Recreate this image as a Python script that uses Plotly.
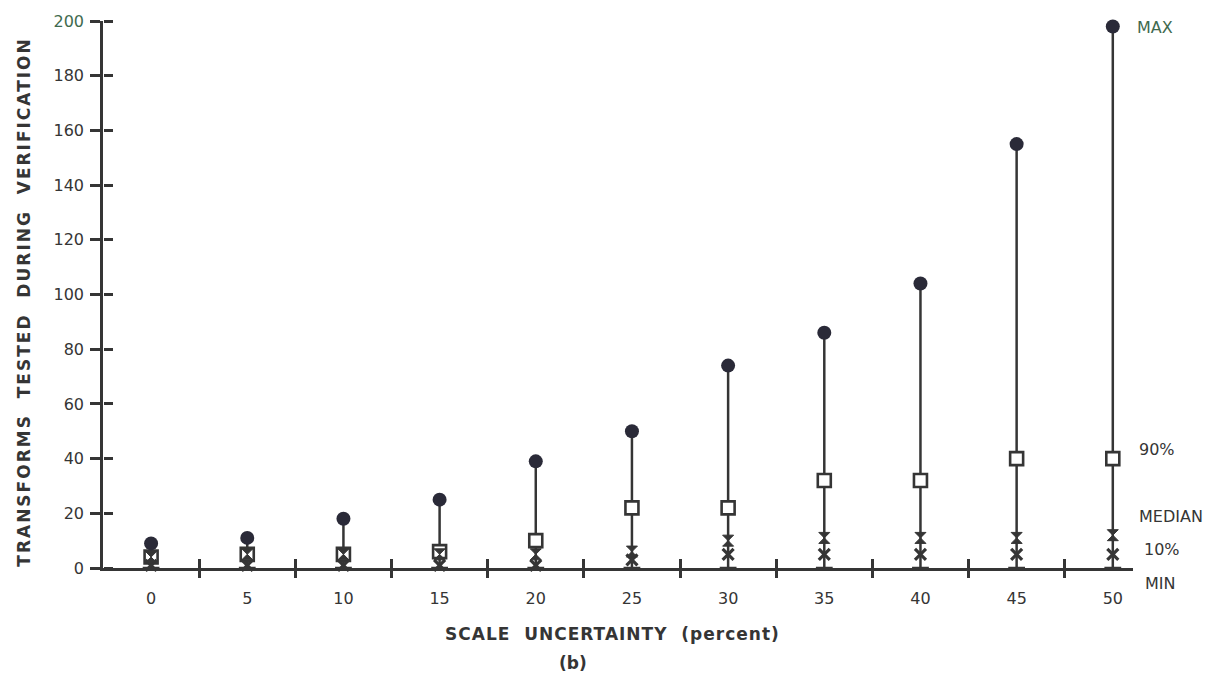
import plotly.graph_objects as go

# Scale uncertainty (percent) and statistics of transforms tested during verification
scale_pct = [0, 5, 10, 15, 20, 25, 30, 35, 40, 45, 50]
t_max = [9, 11, 18, 25, 39, 50, 74, 86, 104, 155, 198]
t_p90 = [4, 5, 5, 6, 10, 22, 22, 32, 32, 40, 40]
t_median = [4, 5, 5, 5, 5, 6, 10, 11, 11, 11, 12]
t_p10 = [1, 1, 1, 1, 1, 3, 5, 5, 5, 5, 5]
t_min = [0, 0, 0, 0, 0, 0, 0, 0, 0, 0, 0]

y_ticks = [0, 20, 40, 60, 80, 100, 120, 140, 160, 180, 200]
x_mid_ticks = [2.5, 7.5, 12.5, 17.5, 22.5, 27.5, 32.5, 37.5, 42.5, 47.5]

INK = "#353535"
DOT = "#2a2a38"
GREEN = "#3f6a4f"
FONT = "DejaVu Sans"

# vertical range lines from max down to min
seg_x, seg_y = [], []
for x, hi, lo in zip(scale_pct, t_max, t_min):
    seg_x += [x, x, None]
    seg_y += [hi, lo, None]

fig = go.Figure()
fig.add_trace(go.Scatter(x=seg_x, y=seg_y, mode="lines",
                         line=dict(color=INK, width=2.5), showlegend=False,
                         hoverinfo="skip", cliponaxis=False))
fig.add_trace(go.Scatter(x=scale_pct, y=t_min, mode="markers", name="MIN",
                         marker=dict(symbol="line-ew", size=12,
                                     line=dict(color=INK, width=2.5)),
                         showlegend=False, cliponaxis=False))
fig.add_trace(go.Scatter(x=scale_pct, y=t_p90, mode="markers", name="90%",
                         marker=dict(symbol="square", size=13, color="white",
                                     line=dict(color=INK, width=2.6)),
                         showlegend=False, cliponaxis=False))
fig.add_trace(go.Scatter(x=scale_pct, y=t_p10, mode="markers", name="10%",
                         marker=dict(symbol="x-thin", size=11,
                                     line=dict(color=INK, width=3.2)),
                         showlegend=False, cliponaxis=False))
fig.add_trace(go.Scatter(x=scale_pct, y=t_median, mode="markers", name="MEDIAN",
                         marker=dict(symbol="hourglass", size=11, color=INK,
                                     line=dict(color=INK, width=1)),
                         showlegend=False, cliponaxis=False))
fig.add_trace(go.Scatter(x=scale_pct, y=t_max, mode="markers", name="MAX",
                         marker=dict(symbol="circle", size=14, color=DOT,
                                     line=dict(color=DOT, width=0)),
                         showlegend=False, cliponaxis=False))

# invisible anchor traces so the overlay axes carrying the crossing tick marks are drawn
for xa, ya in [("x2", "y"), ("x3", "y"), ("x", "y2")]:
    fig.add_trace(go.Scatter(x=[scale_pct[0]], y=[t_min[0]], xaxis=xa, yaxis=ya,
                             mode="markers", marker=dict(opacity=0, size=1),
                             hoverinfo="skip", showlegend=False))

x_range = [-2.5, 51.05]
y_range = [0, 200]

y_text = [str(v) for v in y_ticks]
y_text[-1] = f"<span style='color:{GREEN}'>200</span>"

tick_axis = dict(showticklabels=False, showline=False, showgrid=False,
                 zeroline=False, tickwidth=2.5, tickcolor=INK)

fig.update_layout(
    width=1224, height=680,
    margin=dict(l=103, r=91, t=19, b=112),
    paper_bgcolor="white", plot_bgcolor="white",
    font=dict(family=FONT, color=INK, size=16),
    xaxis=dict(range=x_range, tickvals=scale_pct, ticktext=[str(v) for v in scale_pct],
               ticks="", showline=True, linecolor=INK, linewidth=2.5,
               showgrid=False, zeroline=False, ticklabelstandoff=14,
               tickfont=dict(family=FONT, size=16, color=INK)),
    xaxis2=dict(range=x_range, overlaying="x", anchor="y", tickvals=x_mid_ticks,
                ticks="outside", ticklen=9, **tick_axis),
    xaxis3=dict(range=x_range, overlaying="x", anchor="y", tickvals=x_mid_ticks,
                ticks="inside", ticklen=9, **tick_axis),
    yaxis=dict(range=y_range, tickvals=y_ticks, ticktext=y_text,
               ticks="outside", ticklen=10, tickwidth=2.5, tickcolor=INK,
               showline=True, linecolor=INK, linewidth=2.5,
               showgrid=False, zeroline=False, ticklabelstandoff=3,
               tickfont=dict(family=FONT, size=16, color=INK)),
    # right-facing tick marks sitting on the left axis line
    yaxis2=dict(range=y_range, overlaying="y", anchor="free", position=0, side="right",
                tickvals=y_ticks, ticks="outside", ticklen=9, **tick_axis),
)

# axis titles
fig.add_annotation(xref="paper", yref="paper", x=0, y=0.485, xshift=-79,
                   text="<b><span style='letter-spacing:2px'>TRANSFORMS  TESTED  DURING  VERIFICATION</span></b>",
                   textangle=-90, showarrow=False, xanchor="center", yanchor="middle",
                   font=dict(family=FONT, size=17, color=INK))
fig.add_annotation(xref="paper", yref="paper", x=0.495, y=0, yshift=-66,
                   text="<b><span style='letter-spacing:1px'>SCALE  UNCERTAINTY  (percent)</span></b>",
                   showarrow=False, xanchor="center", yanchor="middle",
                   font=dict(family=FONT, size=17, color=INK))
fig.add_annotation(xref="paper", yref="paper", x=0.456, y=0, yshift=-95,
                   text="<b>(b)</b>", showarrow=False, xanchor="center", yanchor="middle",
                   font=dict(family=FONT, size=17, color=INK))

# statistic labels to the right of the last column
stat_labels = [("MAX", 197.8, GREEN, 22), ("90%", 43.4, INK, 24),
               ("MEDIAN", 18.9, INK, 24), ("10%", 6.6, INK, 29)]
for txt, yv, col, dx in stat_labels:
    fig.add_annotation(x=scale_pct[-1], y=yv, xref="x", yref="y", xshift=dx,
                       text=txt, showarrow=False, xanchor="left", yanchor="middle",
                       font=dict(family=FONT, size=16, color=col))
fig.add_annotation(x=scale_pct[-1], y=0, xref="x", yref="paper", xshift=30, yshift=-15,
                   text="MIN", showarrow=False, xanchor="left", yanchor="middle",
                   font=dict(family=FONT, size=16, color=INK))

fig.write_html("out.html")
